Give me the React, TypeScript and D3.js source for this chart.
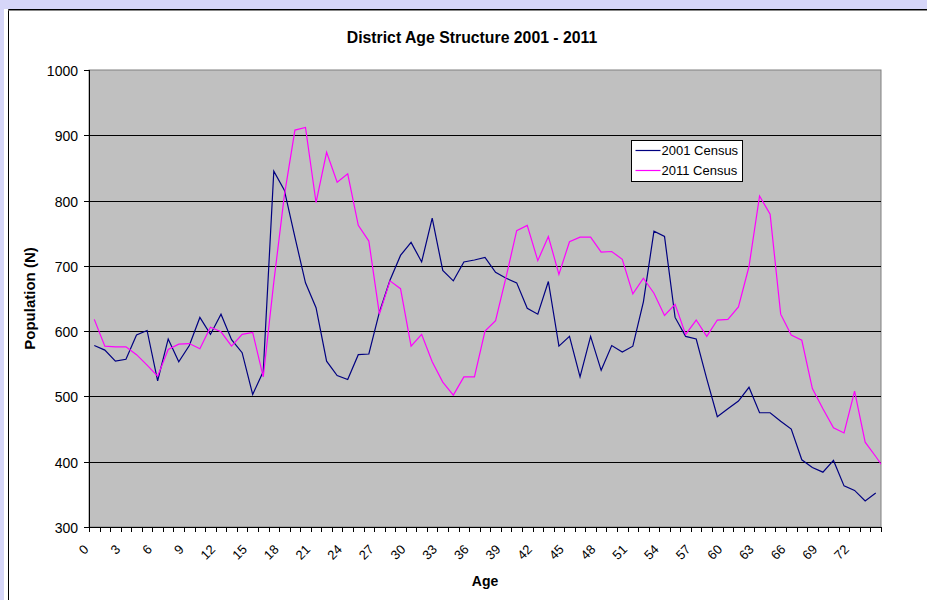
import React from "react";
import * as d3 from "d3";

const WIDTH = 927;
const HEIGHT = 600;

// plot area box (Excel-style chart)
const PLOT = { left: 89, top: 70, right: 881, bottom: 527 };

const census2001 = [
  578, 571, 554, 557, 594, 601, 524, 588, 553, 578, 621, 595, 626, 587, 567,
  503, 538, 845, 816, 744, 674, 636, 554, 532, 526, 564, 565, 629, 678, 716,
  736, 706, 773, 693, 677, 706, 709, 713, 690, 681, 674, 635, 626, 676, 577,
  592, 530, 592, 540, 578, 568, 577, 645, 753, 745, 621, 592, 588, 527, 469,
  481, 493, 514, 475, 475, 462, 450, 403, 391, 384, 402, 363, 356, 340, 352,
];

const census2011 = [
  618, 577, 576, 576, 564, 548, 531, 572, 580, 581, 573, 606, 599, 577, 595,
  598, 530, 675, 808, 908, 912, 797, 874, 828, 841, 762, 738, 626, 677, 665,
  577, 595, 553, 522, 502, 530, 530, 600, 616, 683, 754, 762, 708, 745, 687,
  737, 744, 744, 721, 722, 710, 657, 681, 658, 624, 641, 595, 617, 592, 617,
  618, 637, 699, 807, 779, 626, 594, 586, 512, 481, 452, 444, 508, 430, 408,
  385,
];

const ageLabels = [
  0, 3, 6, 9, 12, 15, 18, 21, 24, 27, 30, 33, 36, 39, 42, 45, 48, 51, 54, 57,
  60, 63, 66, 69, 72,
];

const yTicks = [300, 400, 500, 600, 700, 800, 900, 1000];

const series = [
  { name: "2001 Census", values: census2001, color: "#000080" },
  { name: "2011 Census", values: census2011, color: "#ff00ff" },
];

const FONT = "'Liberation Sans', Arial, sans-serif";

export default function App() {
  const nCats = census2001.length;

  // category boundaries 0..nCats, points sit in the middle of each slot
  const x = d3.scaleLinear().domain([0, nCats]).range([PLOT.left, PLOT.right]);
  const y = d3.scaleLinear().domain([300, 1000]).range([PLOT.bottom, PLOT.top]);

  const line = d3
    .line<number>()
    .x((_, i) => x(i + 0.5))
    .y((d) => y(d));

  const catTicks = d3.range(nCats + 1);

  return (
    <svg
      width={WIDTH}
      height={HEIGHT}
      style={{ position: "absolute", left: 0, top: 0, fontFamily: FONT }}
    >
      <defs>
        <clipPath id="plot-clip">
          <rect
            x={PLOT.left}
            y={PLOT.top}
            width={PLOT.right - PLOT.left}
            height={PLOT.bottom - PLOT.top}
          />
        </clipPath>
      </defs>

      {/* sheet background and chart frame */}
      <rect width={WIDTH} height={HEIGHT} fill="#d6d6f8" />
      <rect x={4} y={9} width={WIDTH - 4} height={HEIGHT - 9} fill="#ffffff" />
      <line x1={8.5} y1={9.5} x2={8.5} y2={HEIGHT} stroke="#000" />
      <line x1={8.5} y1={9.5} x2={WIDTH} y2={9.5} stroke="#000" />
      <line x1={8.5} y1={10.5} x2={WIDTH} y2={10.5} stroke="#888" />

      <text
        x={472}
        y={43}
        textAnchor="middle"
        fontSize={15.8}
        fontWeight="bold"
      >
        District Age Structure 2001 - 2011
      </text>

      {/* plot area */}
      <rect
        x={PLOT.left}
        y={PLOT.top}
        width={PLOT.right - PLOT.left}
        height={PLOT.bottom - PLOT.top}
        fill="#c0c0c0"
        stroke="#808080"
      />

      {/* gridlines */}
      {yTicks
        .filter((t) => t > 300 && t < 1000)
        .map((t) => (
          <line
            key={t}
            x1={PLOT.left}
            x2={PLOT.right}
            y1={Math.round(y(t)) + 0.5}
            y2={Math.round(y(t)) + 0.5}
            stroke="#000"
          />
        ))}

      {/* y axis */}
      <line
        x1={PLOT.left + 0.5}
        x2={PLOT.left + 0.5}
        y1={PLOT.top}
        y2={PLOT.bottom}
        stroke="#000"
      />
      {yTicks.map((t) => (
        <g key={t} transform={`translate(0, ${Math.round(y(t)) + 0.5})`}>
          <line x1={PLOT.left - 5} x2={PLOT.left} stroke="#000" />
          <text
            x={PLOT.left - 11}
            textAnchor="end"
            dominantBaseline="central"
            fontSize={14}
          >
            {t}
          </text>
        </g>
      ))}

      {/* x axis */}
      <line
        x1={PLOT.left}
        x2={PLOT.right}
        y1={PLOT.bottom + 0.5}
        y2={PLOT.bottom + 0.5}
        stroke="#000"
      />
      {catTicks.map((k) => (
        <line
          key={k}
          x1={Math.round(x(k)) + 0.5}
          x2={Math.round(x(k)) + 0.5}
          y1={PLOT.bottom}
          y2={PLOT.bottom + 5}
          stroke="#000"
        />
      ))}
      {ageLabels.map((a) => (
        <text
          key={a}
          transform={`translate(${x(a + 0.5) - 8}, 547) rotate(-45)`}
          textAnchor="end"
          dominantBaseline="central"
          fontSize={13}
        >
          {a}
        </text>
      ))}

      {/* series */}
      <g clipPath="url(#plot-clip)">
        {series.map((s) => (
          <path
            key={s.name}
            d={line(s.values) ?? ""}
            fill="none"
            stroke={s.color}
            strokeWidth={1.2}
          />
        ))}
      </g>

      {/* axis titles */}
      <text
        transform={`translate(35, ${(PLOT.top + PLOT.bottom) / 2}) rotate(-90)`}
        textAnchor="middle"
        fontSize={15}
        fontWeight="bold"
      >
        Population (N)
      </text>
      <text x={485} y={586} textAnchor="middle" fontSize={14} fontWeight="bold">
        Age
      </text>

      {/* legend */}
      <g transform="translate(631.5, 140.5)">
        <rect width={111} height={41} fill="#ffffff" stroke="#000" />
        {series.map((s, i) => (
          <g key={s.name} transform={`translate(0, ${10 + i * 20})`}>
            <line x1={4} x2={29} stroke={s.color} strokeWidth={1.2} />
            <text x={30} dominantBaseline="central" fontSize={13}>
              {s.name}
            </text>
          </g>
        ))}
      </g>
    </svg>
  );
}
